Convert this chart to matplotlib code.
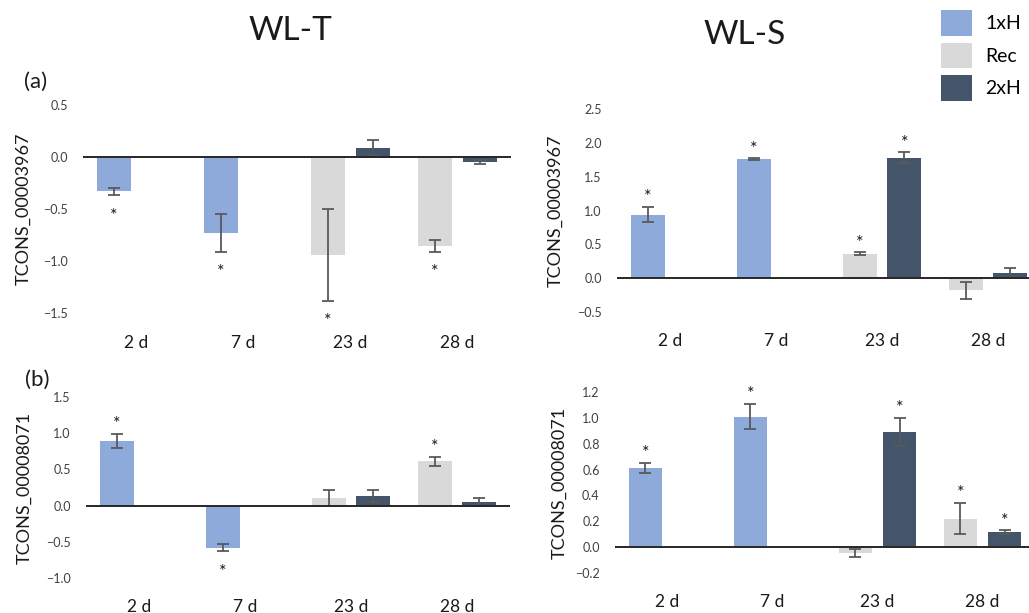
import numpy as np
import matplotlib
matplotlib.use('Agg')
import matplotlib.pyplot as plt
from matplotlib.patches import Patch

plt.rcParams['font.family'] = ['Lato', 'DejaVu Sans']

nan = np.nan
days = ['2 d', '7 d', '23 d', '28 d']
series = ['1xH', 'Rec', '2xH']
colors = {'1xH': '#8eaadb', 'Rec': '#d9d9d9', '2xH': '#44546a'}

# (a) TCONS_00003967, WL-T
a_t_mean = {'1xH': [-0.33, -0.73, nan, nan], 'Rec': [nan, nan, -0.94, -0.855], '2xH': [nan, nan, 0.09, -0.05]}
a_t_err = {'1xH': [0.035, 0.18, nan, nan], 'Rec': [nan, nan, 0.44, 0.055], '2xH': [nan, nan, 0.07, 0.02]}
a_t_sig = {'1xH': [1, 1, 0, 0], 'Rec': [0, 0, 1, 1], '2xH': [0, 0, 0, 0]}

# (a) TCONS_00003967, WL-S
a_s_mean = {'1xH': [0.94, 1.76, nan, nan], 'Rec': [nan, nan, 0.36, -0.18], '2xH': [nan, nan, 1.78, 0.08]}
a_s_err = {'1xH': [0.11, 0.01, nan, nan], 'Rec': [nan, nan, 0.02, 0.13], '2xH': [nan, nan, 0.08, 0.07]}
a_s_sig = {'1xH': [1, 1, 0, 0], 'Rec': [0, 0, 1, 0], '2xH': [0, 0, 1, 0]}

# (b) TCONS_00008071, WL-T
b_t_mean = {'1xH': [0.89, -0.58, nan, nan], 'Rec': [nan, nan, 0.11, 0.61], '2xH': [nan, nan, 0.13, 0.05]}
b_t_err = {'1xH': [0.10, 0.05, nan, nan], 'Rec': [nan, nan, 0.11, 0.06], '2xH': [nan, nan, 0.08, 0.05]}
b_t_sig = {'1xH': [1, 1, 0, 0], 'Rec': [0, 0, 0, 1], '2xH': [0, 0, 0, 0]}

# (b) TCONS_00008071, WL-S
b_s_mean = {'1xH': [0.61, 1.01, nan, nan], 'Rec': [nan, nan, -0.045, 0.22], '2xH': [nan, nan, 0.89, 0.115]}
b_s_err = {'1xH': [0.04, 0.10, nan, nan], 'Rec': [nan, nan, 0.03, 0.12], '2xH': [nan, nan, 0.11, 0.015]}
b_s_sig = {'1xH': [1, 1, 0, 0], 'Rec': [0, 0, 0, 1], '2xH': [0, 0, 1, 1]}

offsets = {'1xH': -0.21, 'Rec': -0.21, '2xH': 0.21}
width = 0.32


def draw_panel(ax, mean, err, sig, ylim, yticks, ylabel, label_x, xpad):
    x = np.arange(len(days))
    for s in series:
        m = np.array(mean[s], dtype=float)
        e = np.array(err[s], dtype=float)
        ax.bar(x + offsets[s], m, width, color=colors[s], zorder=2)
        ax.errorbar(x + offsets[s], m, yerr=e, fmt='none', ecolor='#595959',
                    elinewidth=1.3, capsize=4.5, capthick=1.3, zorder=3)
        # significance stars just past the end of the error bar
        for i in range(len(days)):
            if sig[s][i]:
                sign = 1 if m[i] >= 0 else -1
                ax.annotate('*', (x[i] + offsets[s], m[i] + sign * e[i]),
                            xytext=(0, sign * 11 - 4), textcoords='offset points',
                            ha='center', va='center', fontsize=13, color='#1a1a1a')
    ax.axhline(0, color='#262626', lw=1.4, zorder=4)
    ax.set_xlim(-0.5, len(days) - 0.5)
    ax.set_ylim(*ylim)
    ax.set_yticks(yticks)
    ax.set_yticklabels([f'{v:.1f}'.replace('-', '\u2212') for v in yticks])
    ax.set_xticks(x)
    ax.set_xticklabels(days, fontsize=12.5, color='#1a1a1a')
    ax.tick_params(axis='x', length=0, pad=xpad)
    ax.tick_params(axis='y', length=0, pad=11, labelsize=9, labelcolor='#404040')
    for sp in ax.spines.values():
        sp.set_visible(False)
    ax.set_ylabel(ylabel, fontsize=13, color='#1a1a1a')
    ax.yaxis.set_label_coords(label_x, 0.5)


fig = plt.figure(figsize=(10.29, 6.13), dpi=100)
W, H = 1029, 613


def add_axes(x0, x1, ytop, ybot):
    return fig.add_axes([x0 / W, 1 - ybot / H, (x1 - x0) / W, (ybot - ytop) / H])


ax1 = add_axes(83, 511, 105, 313)
ax2 = add_axes(617, 1041, 109, 312)
ax3 = add_axes(86, 510, 397, 578)
ax4 = add_axes(615, 1035, 392, 573)

draw_panel(ax1, a_t_mean, a_t_err, a_t_sig, (-1.5, 0.5), [-1.5, -1.0, -0.5, 0.0, 0.5],
           'TCONS_00003967', -0.12, 16)
draw_panel(ax2, a_s_mean, a_s_err, a_s_sig, (-0.5, 2.5), [-0.5, 0.0, 0.5, 1.0, 1.5, 2.0, 2.5],
           'TCONS_00003967', -0.127, 15)
draw_panel(ax3, b_t_mean, b_t_err, b_t_sig, (-1.0, 1.5), [-1.0, -0.5, 0.0, 0.5, 1.0, 1.5],
           'TCONS_00008071', -0.125, 15)
draw_panel(ax4, b_s_mean, b_s_err, b_s_sig, (-0.2, 1.2), [-0.2, 0.0, 0.2, 0.4, 0.6, 0.8, 1.0, 1.2],
           'TCONS_00008071', -0.112, 15)

fig.text(290 / W, 1 - 31 / H, 'WL-T', ha='center', va='center', fontsize=24, color='#1a1a1a')
fig.text(745 / W, 1 - 35 / H, 'WL-S', ha='center', va='center', fontsize=24, color='#1a1a1a')
fig.text(36 / W, 1 - 82 / H, '(a)', ha='center', va='center', fontsize=16, color='#1a1a1a')
fig.text(37 / W, 1 - 380 / H, '(b)', ha='center', va='center', fontsize=16, color='#1a1a1a')

handles = [Patch(facecolor=colors[s], edgecolor='none', label=s) for s in series]
fig.legend(handles=handles, loc='upper left', bbox_to_anchor=(941 / W, 1 - 10 / H),
           frameon=False, borderpad=0, fontsize=14, handlelength=1.6, handleheight=1.65,
           labelspacing=0.36, handletextpad=0.67, borderaxespad=0)

fig.savefig('out.png', dpi=100)
